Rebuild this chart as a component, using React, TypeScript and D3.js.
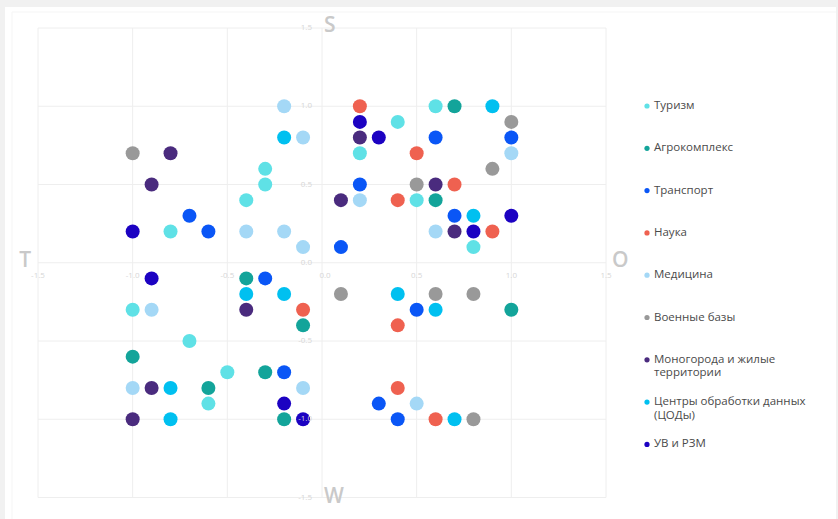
import React from "react";
import * as d3 from "d3";

type P = [number, number];

const categories = [
  "Туризм",
  "Агрокомплекс",
  "Транспорт",
  "Наука",
  "Медицина",
  "Военные базы",
  "Моногорода и жилые территории",
  "Центры обработки данных (ЦОДы)",
  "УВ и РЗМ",
];

const legendLines: string[][] = [
  ["Туризм"],
  ["Агрокомплекс"],
  ["Транспорт"],
  ["Наука"],
  ["Медицина"],
  ["Военные базы"],
  ["Моногорода и жилые", "территории"],
  ["Центры обработки данных", "(ЦОДы)"],
  ["УВ и РЗМ"],
];

const colors = [
  "#5fe1e6",
  "#13a49a",
  "#0a56f6",
  "#ef6150",
  "#a4d8f6",
  "#999999",
  "#4a2b7e",
  "#00c0f0",
  "#1c02c2",
];

const tourism: P[] = [
  [-0.3, 0.6], [-0.3, 0.5], [-0.4, 0.4], [-0.8, 0.2], [0.6, 1.0], [0.4, 0.9],
  [0.2, 0.7], [0.5, 0.4], [0.8, 0.1], [-1.0, -0.3], [-0.7, -0.5], [-0.5, -0.7],
  [-0.6, -0.9],
];
const agro: P[] = [
  [0.7, 1.0], [0.6, 0.4], [-0.4, -0.1], [-0.1, -0.4], [-1.0, -0.6], [-0.3, -0.7],
  [-0.6, -0.8], [-0.2, -1.0], [1.0, -0.3],
];
const transport: P[] = [
  [-0.7, 0.3], [-0.6, 0.2], [0.1, 0.1], [0.6, 0.8], [1.0, 0.8], [0.2, 0.5],
  [0.7, 0.3], [-0.3, -0.1], [-0.2, -0.7], [0.5, -0.3], [0.3, -0.9], [0.4, -1.0],
];
const science: P[] = [
  [0.2, 1.0], [0.5, 0.7], [0.7, 0.5], [0.4, 0.4], [0.9, 0.2], [-0.1, -0.3],
  [0.4, -0.4], [0.4, -0.8], [0.6, -1.0],
];
const medicine: P[] = [
  [-0.2, 1.0], [-0.1, 0.8], [-0.4, 0.2], [-0.2, 0.2], [-0.1, 0.1], [1.0, 0.7],
  [0.2, 0.4], [0.6, 0.2], [-0.9, -0.3], [-1.0, -0.8], [-0.1, -0.8], [0.5, -0.9],
];
const military: P[] = [
  [-1.0, 0.7], [1.0, 0.9], [0.9, 0.6], [0.5, 0.5], [0.1, -0.2], [0.6, -0.2],
  [0.8, -0.2], [0.8, -1.0],
];
const monotowns: P[] = [
  [-0.8, 0.7], [-0.9, 0.5], [0.2, 0.8], [0.6, 0.5], [0.1, 0.4], [0.7, 0.2],
  [-0.4, -0.3], [-0.9, -0.8], [-1.0, -1.0],
];
const dataCenters: P[] = [
  [-0.2, 0.8], [0.9, 1.0], [0.8, 0.3], [-0.4, -0.2], [-0.2, -0.2], [0.4, -0.2],
  [0.6, -0.3], [-0.8, -0.8], [-0.8, -1.0], [0.7, -1.0],
];
const hydrocarbons: P[] = [
  [-1.0, 0.2], [0.2, 0.9], [0.3, 0.8], [1.0, 0.3], [0.8, 0.2], [-0.9, -0.1],
  [-0.2, -0.9], [-0.1, -1.0],
];

const seriesData: P[][] = [
  tourism, agro, transport, science, medicine, military, monotowns, dataCenters, hydrocarbons,
];

const ticks = [-1.5, -1.0, -0.5, 0.0, 0.5, 1.0, 1.5];
const tickLabels = ["-1.5", "-1.0", "-0.5", "0.0", "0.5", "1.0", "1.5"];
const directionLabels = ["S", "W", "T", "O"];

export default function App() {
  const W = 838;
  const H = 519;
  const x = d3.scaleLinear().domain([-1.5, 1.5]).range([38, 606]);
  const y = d3.scaleLinear().domain([-1.5, 1.5]).range([497.5, 28]);
  const font = "'Open Sans', 'Noto Sans', sans-serif";

  return (
    <svg
      width={W}
      height={H}
      style={{ position: "absolute", left: 0, top: 0, display: "block" }}
    >
      <rect x={0} y={0} width={W} height={H} fill="#f1f1f1" />
      <rect x={5} y={7} width={831} height={H - 7} fill="#ffffff" />
      <line x1={12} x2={12} y1={12} y2={H} stroke="#f5f5f5" />
      <line x1={12} x2={836} y1={12} y2={12} stroke="#f5f5f5" />

      {/* grid */}
      <g stroke="#eeeeee" strokeWidth={1}>
        {ticks.map((t, i) => (
          <line key={"gx" + i} x1={x(t)} x2={x(t)} y1={y(1.5)} y2={y(-1.5)} />
        ))}
        {ticks.map((t, i) => (
          <line key={"gy" + i} x1={x(-1.5)} x2={x(1.5)} y1={y(t)} y2={y(t)} />
        ))}
      </g>

      {/* dots */}
      <g>
        {seriesData.map((pts, si) =>
          pts.map((p, pi) => (
            <circle
              key={si + "-" + pi}
              cx={x(p[0])}
              cy={y(p[1])}
              r={7}
              fill={colors[si]}
            />
          ))
        )}
      </g>

      {/* tick labels */}
      <g fontFamily={font} fontSize={8} fill="#d6d6d6">
        {ticks.map((t, i) => (
          <text
            key={"tx" + i}
            x={x(t) + (t === 0 ? 3 : 0)}
            y={y(0) + 13}
            textAnchor="middle"
            dominantBaseline="middle"
          >
            {tickLabels[i]}
          </text>
        ))}
        {ticks.map((t, i) => (
          <text
            key={"ty" + i}
            x={x(0) - 10}
            y={y(t)}
            textAnchor="end"
            dominantBaseline="middle"
          >
            {tickLabels[i]}
          </text>
        ))}
      </g>

      {/* direction labels */}
      <g fontFamily={font} fontSize={21} fontWeight={600} fill="#c9c9c9">
        <text x={x(0) + 2} y={y(1.5) - 2} dominantBaseline="middle">
          {directionLabels[0]}
        </text>
        <text x={x(0) + 2} y={y(-1.5)} dominantBaseline="middle">
          {directionLabels[1]}
        </text>
        <text x={x(-1.5) - 7} y={y(0) - 1} textAnchor="end" dominantBaseline="middle">
          {directionLabels[2]}
        </text>
        <text x={x(1.5) + 6} y={y(0) - 1} dominantBaseline="middle">
          {directionLabels[3]}
        </text>
      </g>

      {/* legend */}
      <g fontFamily={font} fontSize={11.5} fill="#4a4a4a">
        {categories.map((c, i) => {
          const ly = 106 + i * 42.3;
          return (
            <g key={"lg" + i}>
              <circle cx={647} cy={ly} r={2.6} fill={colors[i]} />
              {legendLines[i].map((ln, j) => (
                <text key={j} x={654} y={ly + j * 13.5} dominantBaseline="middle">
                  {ln}
                </text>
              ))}
            </g>
          );
        })}
      </g>
    </svg>
  );
}
